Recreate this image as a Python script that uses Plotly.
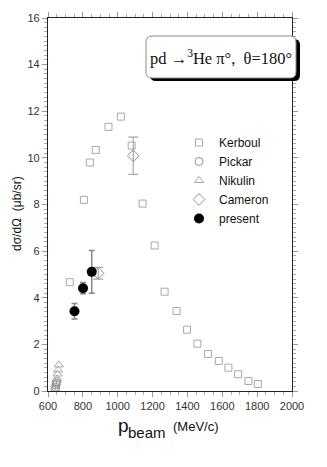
import plotly.graph_objects as go

# Kerboul
kerboul_p = [725, 806, 840, 874, 947, 1018, 1080, 1143, 1212, 1269, 1338, 1398, 1457, 1518, 1580, 1635, 1691, 1750, 1804]
kerboul_xs = [4.67, 8.2, 9.8, 10.34, 11.33, 11.77, 10.53, 8.04, 6.24, 4.26, 3.43, 2.63, 2.03, 1.59, 1.29, 1.0, 0.72, 0.43, 0.3]

# Pickar
pickar_p = [641, 644, 646, 648, 650]
pickar_xs = [0.07, 0.16, 0.26, 0.33, 0.4]
pickar_err = [0.04, 0.05, 0.06, 0.06, 0.07]

# Nikulin
nikulin_p = [652, 655, 658, 662]
nikulin_xs = [0.52, 0.73, 0.9, 1.12]

# Cameron
cameron_p = [888, 1089]
cameron_xs = [5.05, 10.09]
cameron_err = [0.25, 0.8]

# present
present_p = [752, 801, 851]
present_xs = [3.42, 4.41, 5.11]
present_err = [0.33, 0.24, 0.92]

grey = "#a8a8a8"
sans = "Liberation Sans, Arial, sans-serif"
fig = go.Figure()

fig.add_trace(go.Scatter(x=kerboul_p, y=kerboul_xs, mode="markers", name="Kerboul",
                         marker=dict(symbol="square-open", size=7, color=grey, line=dict(width=1))))
fig.add_trace(go.Scatter(x=pickar_p, y=pickar_xs, mode="markers", name="Pickar",
                         error_y=dict(type="data", array=pickar_err, color=grey, thickness=1, width=0),
                         marker=dict(symbol="circle-open", size=8, color="#909090", line=dict(width=1))))
fig.add_trace(go.Scatter(x=nikulin_p, y=nikulin_xs, mode="markers", name="Nikulin",
                         marker=dict(symbol="triangle-up-open", size=8, color=grey, line=dict(width=1))))
fig.add_trace(go.Scatter(x=cameron_p, y=cameron_xs, mode="markers", name="Cameron",
                         error_y=dict(type="data", array=cameron_err, color=grey, thickness=1.2, width=5),
                         marker=dict(symbol="diamond-open", size=9, color="#909090", line=dict(width=1))))
fig.add_trace(go.Scatter(x=present_p, y=present_xs, mode="markers", name="present",
                         error_y=dict(type="data", array=present_err, color="#8a8a8a", thickness=1.5, width=3),
                         marker=dict(symbol="circle", size=10, color="black")))

axis_common = dict(showline=True, linecolor="#222", linewidth=1.2, mirror="allticks",
                   ticks="outside", ticklen=5, tickcolor="#999", tickwidth=1,
                   showgrid=False, zeroline=False,
                   tickfont=dict(family=sans, size=11, color="#333"))

fig.update_xaxes(range=[600, 2000], dtick=200, tick0=600,
                 minor=dict(dtick=50, ticks="outside", ticklen=3, tickcolor="#aaa"), **axis_common)
fig.update_yaxes(range=[0, 16], dtick=2, tick0=0,
                 minor=dict(dtick=0.2, ticks="outside", ticklen=3, tickcolor="#aaa"), **axis_common)

L, R, T, B = 48, 35, 18, 76
W, H = 327, 467
pw, ph = W - L - R, H - T - B


def px(x):
    return (x - L) / pw


def py(y):
    return (H - B - y) / ph


def rounded(x0, y0, x1, y1, r):
    # rounded rect path in paper coords from pixel box
    rx, ry = r / pw, r / ph
    a, b, c, d = px(x0), py(y0), px(x1), py(y1)
    return (f"M {a+rx},{b} L {c-rx},{b} Q {c},{b} {c},{b-ry} L {c},{d+ry} Q {c},{d} {c-rx},{d} "
            f"L {a+rx},{d} Q {a},{d} {a},{d+ry} L {a},{b-ry} Q {a},{b} {a+rx},{b} Z")


fig.add_shape(type="path", xref="paper", yref="paper", path=rounded(150, 39, 300, 81, 6),
              fillcolor="black", line=dict(width=0))
fig.add_shape(type="path", xref="paper", yref="paper", path=rounded(146, 36, 296, 78, 6),
              fillcolor="white", line=dict(color="#888", width=1))


def label(x, y, text, size, family=sans, angle=0):
    fig.add_annotation(xref="paper", yref="paper", x=px(x), y=py(y), showarrow=False,
                       xanchor="center", yanchor="middle", textangle=angle, text=text,
                       font=dict(family=family, size=size, color="#111"))


label(221, 58, "pd \u2192<sup>3</sup>He \u03c0\u00b0,\u00a0 \u03b8=180\u00b0", 16.5,
      family="Liberation Serif, Times New Roman, serif")
label(123, 425, "p", 19)
label(147, 432, "beam", 15)
label(196, 426, "(MeV/c)", 13)
label(17, 214, "d\u03c3/d\u03a9\u00a0 (\u03bcb/sr)", 12, angle=-90)

fig.update_layout(
    width=W, height=H,
    margin=dict(l=L, r=R, t=T, b=B),
    paper_bgcolor="white", plot_bgcolor="white",
    showlegend=True,
    legend=dict(x=px(179), y=py(128), xanchor="left", yanchor="top",
                bgcolor="rgba(0,0,0,0)",
                font=dict(family=sans, size=12, color="#111")),
)

fig.write_html("out.html", config={"displayModeBar": False},
               post_script="document.body.style.margin='0';")
